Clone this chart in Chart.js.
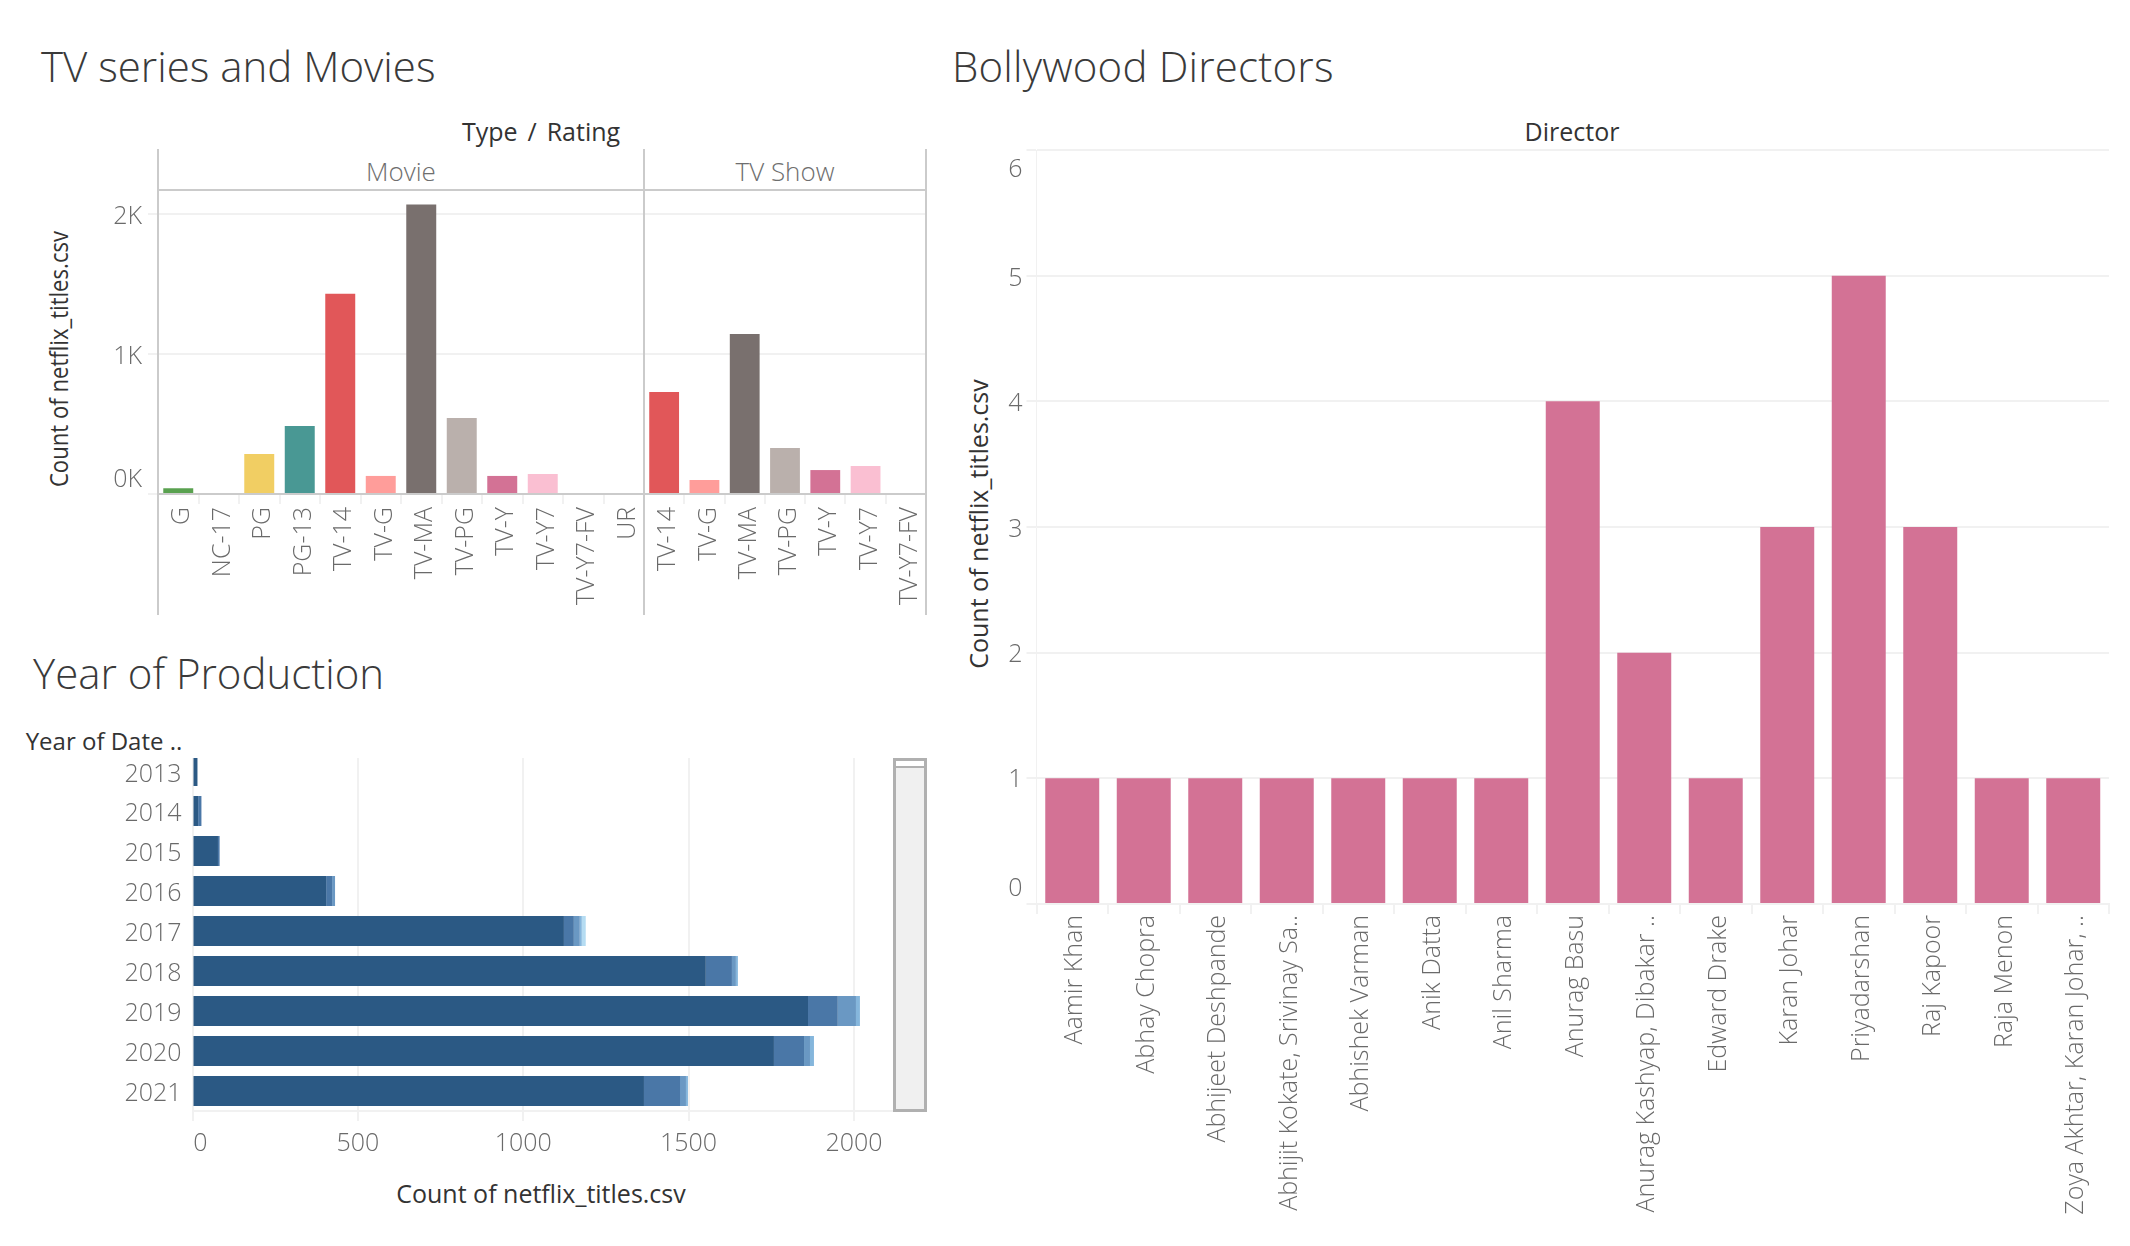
<!DOCTYPE html>
<html>
<head>
<meta charset="utf-8">
<title>Netflix titles</title>
<script src="https://cdn.jsdelivr.net/npm/chart.js@4"></script>
<style>
  html, body { margin: 0; background: #fff; }
  body { position: relative; width: 2130px; height: 1246px; overflow: hidden; font-family: "Open Sans", sans-serif; }
  canvas { position: absolute; }
  .title { position: absolute; font-size: 42px; font-weight: 300; color: #3a3a3a; line-height: 1; white-space: nowrap; }
  .head { position: absolute; font-size: 25px; font-weight: 400; color: #333; line-height: 1; white-space: nowrap; transform: translate(-50%, -50%); }
  .facet { position: absolute; font-size: 26px; font-weight: 300; color: #6e6e6e; line-height: 1; white-space: nowrap; transform: translate(-50%, -50%); }
  #scrollbar { position: absolute; left: 893px; top: 758px; width: 34px; height: 354px; box-sizing: border-box; border: 3px solid #b0b0b0; background: #f0f0f0; }
  #scrollbar div { height: 5px; background: #fff; border-bottom: 2px solid #b0b0b0; }
</style>
</head>
<body>
  <div class="title" style="left:41px;top:45px">TV series and Movies</div>
  <div class="title" style="left:952px;top:45px;letter-spacing:.2px">Bollywood Directors</div>
  <div class="title" style="left:33px;top:652px">Year of Production</div>

  <div class="head" style="left:541px;top:131px;word-spacing:3.5px">Type / Rating</div>
  <div class="facet" style="left:401px;top:171px">Movie</div>
  <div class="facet" style="left:785px;top:171px">TV Show</div>
  <div class="head" style="left:58px;top:359px;transform:translate(-50%,-50%) rotate(-90deg) scaleX(.885)">Count of netflix_titles.csv</div>

  <div class="head" style="left:1572px;top:131px">Director</div>
  <div class="head" style="left:978px;top:524px;transform:translate(-50%,-50%) rotate(-90deg)">Count of netflix_titles.csv</div>

  <div class="head" style="left:104px;top:741px;font-size:24px">Year of Date ..</div>
  <div class="head" style="left:541px;top:1193px">Count of netflix_titles.csv</div>

  <canvas id="movieChart" width="674" height="471" style="left:0;top:149px"></canvas>
  <canvas id="tvChart" width="342" height="471" style="left:614px;top:149px"></canvas>
  <!-- the year list is scrolled a little in the reference, so its top is cut off -->
  <canvas id="yearChart" width="900" height="469" style="left:0;top:711px;clip-path:inset(47px 0 0 0)"></canvas>
  <canvas id="directorChart" width="1170" height="1126" style="left:960px;top:120px"></canvas>
  <div id="scrollbar"><div></div></div>

<script>
// Ratings by type
const movieRatings = ["G", "NC-17", "PG", "PG-13", "TV-14", "TV-G", "TV-MA", "TV-PG", "TV-Y", "TV-Y7", "TV-Y7-FV", "UR"];
const movieCounts = [41, 0, 286, 486, 1430, 129, 2068, 543, 129, 143, 0, 0];
const tvRatings = ["TV-14", "TV-G", "TV-MA", "TV-PG", "TV-Y", "TV-Y7", "TV-Y7-FV"];
const tvCounts = [729, 100, 1143, 329, 171, 200, 0];
const ratingTicks = [0, 1000, 2000];

// Year of date added, stacked in five parts
const years = ["2013", "2014", "2015", "2016", "2017", "2018", "2019", "2020", "2021"];
const yearPart1 = [15, 17, 77, 404, 1123, 1552, 1861, 1758, 1365];
const yearPart2 = [0, 10, 5, 18, 30, 79, 90, 91, 109];
const yearPart3 = [0, 0, 0, 9, 18, 12, 55, 18, 18];
const yearPart4 = [0, 0, 0, 0, 6, 6, 12, 12, 6];
const yearPart5 = [0, 0, 0, 0, 12, 0, 0, 0, 0];
const yearTicks = [0, 500, 1000, 1500, 2000];

// Directors
const directors = ["Aamir Khan", "Abhay Chopra", "Abhijeet Deshpande", "Abhijit Kokate, Srivinay Sa..", "Abhishek Varman", "Anik Datta", "Anil Sharma", "Anurag Basu", "Anurag Kashyap, Dibakar ..", "Edward Drake", "Karan Johar", "Priyadarshan", "Raj Kapoor", "Raja Menon", "Zoya Akhtar, Karan Johar, .."];
const directorCounts = [1, 1, 1, 1, 1, 1, 1, 4, 2, 1, 3, 5, 3, 1, 1];

const ratingColors = {
  "G": "#59a14f", "NC-17": "#86bcb6", "PG": "#f1ce63", "PG-13": "#499894", "TV-14": "#e15759", "TV-G": "#ff9d9a",
  "TV-MA": "#79706e", "TV-PG": "#bab0ac", "TV-Y": "#d37295", "TV-Y7": "#fabfd2", "TV-Y7-FV": "#b07aa1", "UR": "#9d7660"
};
const yearColors = ["#2b5984", "#4a77a7", "#6a98c3", "#85b6dc", "#b5dcf2"];
const tickFont = { family: "'Open Sans'", size: 25, weight: "300" };
const tickColor = "#6a6a6a";
const gridColor = "#f1f1f1";

// Tableau pushes the end labels of an axis inwards, so move those few labels
const nudgeTicks = {
  id: "nudgeTicks",
  beforeDraw(chart, args, opts) {
    for (const axis of ["x", "y"]) {
      const scale = chart.scales[axis];
      const moves = opts[axis];
      if (!moves) continue;
      scale.getLabelItems().forEach((item, i) => {
        const move = moves[scale.ticks[i].value];
        if (move && !item.nudged) {
          item.options.translation[axis === "x" ? 0 : 1] += move;
          item.nudged = true;
        }
      });
    }
  }
};

// Grey frame around one facet of the ratings chart
const facetFrame = {
  id: "facetFrame",
  afterDraw(chart, args, opts) {
    const { ctx, chartArea, height } = chart;
    ctx.save();
    ctx.strokeStyle = "#cbcbcb";
    ctx.lineWidth = 2;
    ctx.beginPath();
    ctx.moveTo(chartArea.left, 0);
    ctx.lineTo(chartArea.left, height - 5);
    if (opts.right) {
      ctx.moveTo(chartArea.right, 0);
      ctx.lineTo(chartArea.right, height - 5);
    }
    ctx.moveTo(chartArea.left, chartArea.top);
    ctx.lineTo(chartArea.right, chartArea.top);
    ctx.stroke();
    ctx.restore();
  }
};

function facetChart(id, ratings, counts, axisWidth, padding, rightLine) {
  return new Chart(document.getElementById(id), {
    type: "bar",
    data: {
      labels: ratings,
      datasets: [{
        data: counts,
        backgroundColor: ratings.map(r => ratingColors[r]),
        barPercentage: 0.74,
        categoryPercentage: 1
      }]
    },
    plugins: [facetFrame, nudgeTicks],
    options: {
      responsive: false,
      animation: false,
      layout: { padding: padding },
      plugins: {
        legend: { display: false },
        tooltip: { enabled: false },
        facetFrame: { right: rightLine },
        nudgeTicks: { y: { 0: -14, 1000: 3, 2000: 3 } }
      },
      scales: {
        x: {
          afterFit: scale => { scale.height = 126; },
          border: { color: "#cbcbcb", width: 2, z: 1 },
          grid: { drawOnChartArea: false, color: gridColor, lineWidth: 2, tickLength: 10 },
          ticks: { autoSkip: false, minRotation: 90, maxRotation: 90, padding: 3, labelOffset: 4, font: tickFont, color: tickColor }
        },
        y: {
          min: 0,
          max: 2171,
          afterFit: scale => { scale.width = axisWidth; },
          afterBuildTicks: scale => { scale.ticks = ratingTicks.map(v => ({ value: v })); },
          border: { display: false },
          grid: { color: gridColor, lineWidth: 2, tickLength: 10, drawTicks: axisWidth > 0 },
          ticks: {
            display: axisWidth > 0,
            padding: 6,
            font: tickFont,
            color: tickColor,
            callback: v => v / 1000 + "K"
          }
        }
      }
    }
  });
}

facetChart("movieChart", movieRatings, movieCounts, 158, { top: 41, right: 30 }, false);
facetChart("tvChart", tvRatings, tvCounts, 0, { top: 41, left: 30, right: 30 }, true);

const yearParts = [yearPart1, yearPart2, yearPart3, yearPart4, yearPart5];

new Chart(document.getElementById("yearChart"), {
  type: "bar",
  data: {
    labels: years,
    datasets: yearParts.map((part, i) => ({
      data: part,
      backgroundColor: yearColors[i],
      barPercentage: 0.75,
      categoryPercentage: 1
    }))
  },
  plugins: [nudgeTicks],
  options: {
    indexAxis: "y",
    responsive: false,
    animation: false,
    layout: { padding: { top: 40, right: 7 } },
    plugins: {
      legend: { display: false },
      tooltip: { enabled: false },
      nudgeTicks: { x: { 0: 8 }, y: { 0: 4, 1: 3, 2: 3, 3: 3, 4: 3, 5: 3, 6: 3, 7: 3, 8: 3 } }
    },
    scales: {
      x: {
        stacked: true,
        min: 0,
        max: 2118,
        afterFit: scale => { scale.height = 69; },
        afterBuildTicks: scale => { scale.ticks = yearTicks.map(v => ({ value: v })); },
        border: { color: gridColor, width: 2 },
        grid: { color: gridColor, lineWidth: 2, tickLength: 10 },
        ticks: { maxRotation: 0, padding: 8, font: tickFont, color: tickColor, callback: v => String(v) }
      },
      y: {
        stacked: true,
        afterFit: scale => { scale.width = 192.5; },
        border: { color: gridColor },
        grid: { display: false, drawTicks: false },
        ticks: { autoSkip: false, padding: 11, font: tickFont, color: tickColor }
      }
    }
  }
});

new Chart(document.getElementById("directorChart"), {
  type: "bar",
  data: {
    labels: directors,
    datasets: [{
      data: directorCounts,
      backgroundColor: ratingColors["TV-Y"],
      barPercentage: 0.755,
      categoryPercentage: 1
    }]
  },
  plugins: [nudgeTicks],
  options: {
    responsive: false,
    animation: false,
    layout: { padding: { top: 30, right: 21 } },
    plugins: {
      legend: { display: false },
      tooltip: { enabled: false },
      nudgeTicks: { y: { 0: -15, 1: 2, 2: 2, 3: 3, 4: 3, 5: 3, 6: 20 } }
    },
    scales: {
      x: {
        afterFit: scale => { scale.height = 342; },
        border: { color: gridColor, width: 2 },
        grid: { drawOnChartArea: false, color: gridColor, lineWidth: 2, tickLength: 10 },
        ticks: { autoSkip: false, minRotation: 90, maxRotation: 90, padding: 1, labelOffset: 3, font: tickFont, color: tickColor }
      },
      y: {
        min: 0,
        max: 6,
        afterFit: scale => { scale.width = 76.5; },
        border: { color: gridColor },
        grid: { color: gridColor, lineWidth: 2, tickLength: 10 },
        ticks: { stepSize: 1, padding: 4, font: tickFont, color: tickColor }
      }
    }
  }
});
</script>
</body>
</html>
